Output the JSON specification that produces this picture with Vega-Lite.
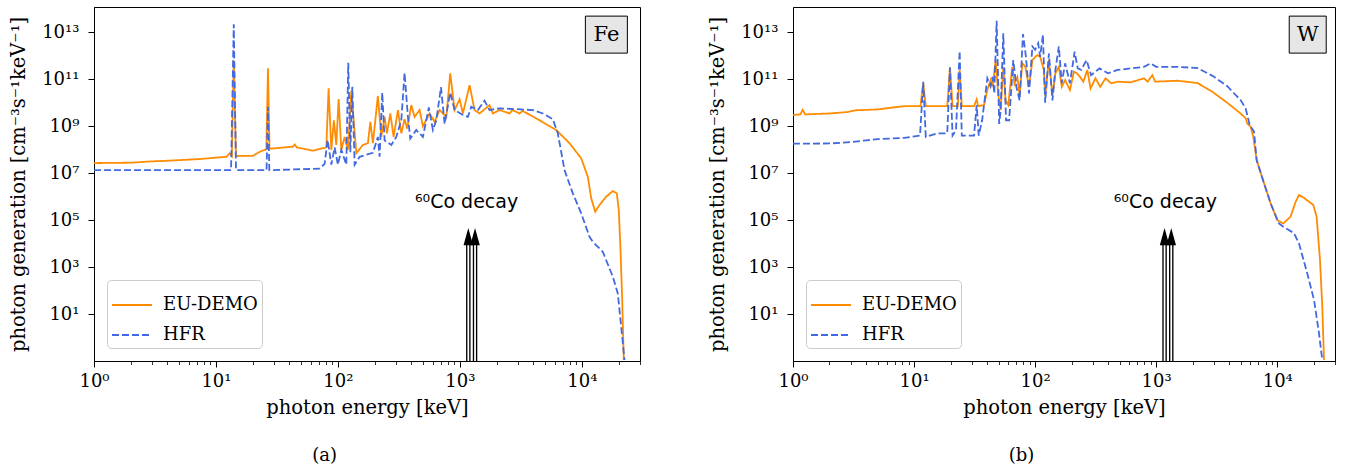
{
 "$schema": "https://vega.github.io/schema/vega-lite/v6.json",
 "padding": {"left": 8, "top": 6, "right": 4, "bottom": 0},
 "spacing": 66,
 "config": {
  "font": "DejaVu Serif",
  "view": {"stroke": "black", "strokeWidth": 1},
  "axis": {"labelFont": "DejaVu Serif", "labelFontSize": 18, "titleFont": "DejaVu Serif", "titleFontSize": 19.5, "titleFontWeight": "normal", "labelColor": "black", "titleColor": "black", "tickColor": "black", "domainColor": "black", "grid": false, "tickSize": 6, "tickWidth": 1, "labelFlush": false},
  "axisY": {"labelPadding": 9, "titlePadding": 13},
  "axisX": {"labelPadding": 5, "titlePadding": 8},
  "legend": {"labelFont": "DejaVu Serif", "labelFontSize": 18, "labelColor": "black", "symbolType": "stroke", "symbolSize": 1600, "symbolStrokeWidth": 2, "fillColor": "white", "strokeColor": "#cccccc", "cornerRadius": 4, "padding": 4, "rowPadding": 0, "labelOffset": 10, "offset": 13, "orient": "bottom-left", "title": null},
  "title": {"font": "DejaVu Serif", "fontSize": 18, "fontWeight": "normal", "color": "black"}
 },
 "datasets": {
  "fe": [
   {"series":"EU-DEMO","energy":1,"value":2.7e7},{"series":"EU-DEMO","energy":2,"value":2.8e7},{"series":"EU-DEMO","energy":3,"value":3.2e7},{"series":"EU-DEMO","energy":3.6,"value":3.3e7},{"series":"EU-DEMO","energy":5,"value":3.6e7},{"series":"EU-DEMO","energy":7.35,"value":4.0e7},{"series":"EU-DEMO","energy":12.2,"value":5.0e7},{"series":"EU-DEMO","energy":13.0,"value":7.1e7},{"series":"EU-DEMO","energy":13.5,"value":5.4e7},{"series":"EU-DEMO","energy":14.0,"value":6.3e11},{"series":"EU-DEMO","energy":14.6,"value":5.4e7},{"series":"EU-DEMO","energy":20,"value":5.5e7},{"series":"EU-DEMO","energy":22.8,"value":8.1e7},{"series":"EU-DEMO","energy":25.9,"value":1.05e8},{"series":"EU-DEMO","energy":26.7,"value":2.95e11},{"series":"EU-DEMO","energy":27.5,"value":1.1e8},{"series":"EU-DEMO","energy":42.8,"value":1.35e8},{"series":"EU-DEMO","energy":44.3,"value":1.66e8},{"series":"EU-DEMO","energy":46,"value":1.26e8},{"series":"EU-DEMO","energy":62.4,"value":9.1e7},{"series":"EU-DEMO","energy":77.8,"value":1.2e8},{"series":"EU-DEMO","energy":80.3,"value":1.26e8},{"series":"EU-DEMO","energy":83.9,"value":4.1e10},{"series":"EU-DEMO","energy":88.3,"value":9.8e7},{"series":"EU-DEMO","energy":92.7,"value":1.8e9},{"series":"EU-DEMO","energy":97,"value":1.6e8},{"series":"EU-DEMO","energy":101.4,"value":1.45e10},{"series":"EU-DEMO","energy":106.6,"value":9.8e7},{"series":"EU-DEMO","energy":113.5,"value":3.5e8},{"series":"EU-DEMO","energy":120.8,"value":9.8e7},{"series":"EU-DEMO","energy":128.8,"value":3.2e10},{"series":"EU-DEMO","energy":141.6,"value":7.1e7},{"series":"EU-DEMO","energy":160.4,"value":1.6e8},{"series":"EU-DEMO","energy":176.3,"value":1.9e8},{"series":"EU-DEMO","energy":184.4,"value":1.55e9},{"series":"EU-DEMO","energy":193.6,"value":1.9e8},{"series":"EU-DEMO","energy":212.7,"value":1.95e10},{"series":"EU-DEMO","energy":226.9,"value":3.5e8},{"series":"EU-DEMO","energy":241.5,"value":2.5e9},{"series":"EU-DEMO","energy":252.4,"value":5e8},{"series":"EU-DEMO","energy":269,"value":3.5e9},{"series":"EU-DEMO","energy":286.3,"value":3.5e8},{"series":"EU-DEMO","energy":310.6,"value":4.9e9},{"series":"EU-DEMO","energy":331,"value":5e8},{"series":"EU-DEMO","energy":352,"value":2e9},{"series":"EU-DEMO","energy":370,"value":7.9e8},{"series":"EU-DEMO","energy":400,"value":7.9e9},{"series":"EU-DEMO","energy":425.5,"value":2.5e9},{"series":"EU-DEMO","energy":467.7,"value":4.9e9},{"series":"EU-DEMO","energy":497.6,"value":1e9},{"series":"EU-DEMO","energy":564.6,"value":3.5e9},{"series":"EU-DEMO","energy":620.6,"value":1.55e9},{"series":"EU-DEMO","energy":682,"value":4.9e9},{"series":"EU-DEMO","energy":774,"value":2.5e9},{"series":"EU-DEMO","energy":834,"value":1.8e11},{"series":"EU-DEMO","energy":905,"value":4.9e9},{"series":"EU-DEMO","energy":995,"value":1.4e10},{"series":"EU-DEMO","energy":1059,"value":3.5e9},{"series":"EU-DEMO","energy":1202,"value":5.6e10},{"series":"EU-DEMO","energy":1320,"value":4.9e9},{"series":"EU-DEMO","energy":1450,"value":3.5e9},{"series":"EU-DEMO","energy":1750,"value":7.9e9},{"series":"EU-DEMO","energy":1864,"value":3.5e9},{"series":"EU-DEMO","energy":2118,"value":4.9e9},{"series":"EU-DEMO","energy":2556,"value":3.5e9},{"series":"EU-DEMO","energy":2704,"value":4.9e9},{"series":"EU-DEMO","energy":3085,"value":3.5e9},{"series":"EU-DEMO","energy":3265,"value":4.5e9},{"series":"EU-DEMO","energy":3964,"value":2.6e9},{"series":"EU-DEMO","energy":4500,"value":1.8e9},{"series":"EU-DEMO","energy":6170,"value":6.9e8},{"series":"EU-DEMO","energy":7925,"value":1.9e8},{"series":"EU-DEMO","energy":9885,"value":4.3e7},{"series":"EU-DEMO","energy":11200,"value":7.1e6},{"series":"EU-DEMO","energy":11940,"value":8.5e5},{"series":"EU-DEMO","energy":12880,"value":2.3e5},{"series":"EU-DEMO","energy":13960,"value":4.4e5},{"series":"EU-DEMO","energy":15850,"value":1e6},{"series":"EU-DEMO","energy":17960,"value":1.74e6},{"series":"EU-DEMO","energy":19360,"value":1.38e6},{"series":"EU-DEMO","energy":20100,"value":2.7e5},{"series":"EU-DEMO","energy":20760,"value":5.4e3},{"series":"EU-DEMO","energy":21440,"value":40},{"series":"EU-DEMO","energy":22090,"value":0.11},
   {"series":"HFR","energy":1,"value":1.35e7},{"series":"HFR","energy":13.3,"value":1.35e7},{"series":"HFR","energy":14.0,"value":2.2e13},{"series":"HFR","energy":14.6,"value":1.35e7},{"series":"HFR","energy":26.0,"value":1.35e7},{"series":"HFR","energy":26.7,"value":6.8e9},{"series":"HFR","energy":27.4,"value":1.35e7},{"series":"HFR","energy":70.6,"value":1.55e7},{"series":"HFR","energy":77.8,"value":2.5e7},{"series":"HFR","energy":82.4,"value":2.6e8},{"series":"HFR","energy":88.3,"value":2.3e7},{"series":"HFR","energy":94,"value":1.26e8},{"series":"HFR","energy":100,"value":2.3e7},{"series":"HFR","energy":106.6,"value":1e8},{"series":"HFR","energy":117.2,"value":2.3e7},{"series":"HFR","energy":121.6,"value":5e11},{"series":"HFR","energy":126.4,"value":7.9e7},{"series":"HFR","energy":131.3,"value":4.8e10},{"series":"HFR","energy":137.1,"value":2.3e7},{"series":"HFR","energy":150.6,"value":5e7},{"series":"HFR","energy":193.6,"value":7.4e7},{"series":"HFR","energy":212.7,"value":3.5e8},{"series":"HFR","energy":219.6,"value":5e7},{"series":"HFR","energy":231,"value":2.7e10},{"series":"HFR","energy":241.5,"value":2.5e8},{"series":"HFR","energy":274,"value":1.6e8},{"series":"HFR","energy":301,"value":3.5e8},{"series":"HFR","energy":331,"value":1.8e9},{"series":"HFR","energy":352,"value":1.9e11},{"series":"HFR","energy":375,"value":2.5e9},{"series":"HFR","energy":392,"value":3e8},{"series":"HFR","energy":439,"value":6.9e8},{"series":"HFR","energy":497.6,"value":3.5e8},{"series":"HFR","energy":557,"value":6.3e9},{"series":"HFR","energy":601,"value":6.9e8},{"series":"HFR","energy":641,"value":1.8e9},{"series":"HFR","energy":700,"value":4.6e10},{"series":"HFR","energy":750,"value":1.26e9},{"series":"HFR","energy":834,"value":2.7e10},{"series":"HFR","energy":905,"value":4.9e9},{"series":"HFR","energy":1059,"value":3e9},{"series":"HFR","energy":1164,"value":2.5e9},{"series":"HFR","energy":1240,"value":6.8e9},{"series":"HFR","energy":1406,"value":4.9e9},{"series":"HFR","energy":1593,"value":1.23e10},{"series":"HFR","energy":1750,"value":4.9e9},{"series":"HFR","energy":2118,"value":5.8e9},{"series":"HFR","energy":3964,"value":4.9e9},{"series":"HFR","energy":4790,"value":3.5e9},{"series":"HFR","energy":5785,"value":2e9},{"series":"HFR","energy":6355,"value":5e8},{"series":"HFR","energy":7215,"value":1.35e7},{"series":"HFR","energy":8440,"value":1.38e6},{"series":"HFR","energy":9885,"value":1.95e5},{"series":"HFR","energy":11560,"value":1.95e4},{"series":"HFR","energy":12300,"value":1.2e4},{"series":"HFR","energy":14860,"value":4.5e3},{"series":"HFR","energy":17960,"value":390},{"series":"HFR","energy":19730,"value":76},{"series":"HFR","energy":21030,"value":2.9},{"series":"HFR","energy":22390,"value":0.11}
  ],
  "w": [
   {"series":"EU-DEMO","energy":1,"value":3.0e9},{"series":"EU-DEMO","energy":1.15,"value":3.2e9},{"series":"EU-DEMO","energy":1.2,"value":5e9},{"series":"EU-DEMO","energy":1.26,"value":3.2e9},{"series":"EU-DEMO","energy":2.0,"value":3.5e9},{"series":"EU-DEMO","energy":2.8,"value":4e9},{"series":"EU-DEMO","energy":3.3,"value":4.8e9},{"series":"EU-DEMO","energy":5.0,"value":5.2e9},{"series":"EU-DEMO","energy":8.3,"value":7.2e9},{"series":"EU-DEMO","energy":11.3,"value":7.2e9},{"series":"EU-DEMO","energy":11.9,"value":6.8e10},{"series":"EU-DEMO","energy":12.5,"value":7.2e9},{"series":"EU-DEMO","energy":18.8,"value":7.2e9},{"series":"EU-DEMO","energy":19.8,"value":3.2e11},{"series":"EU-DEMO","energy":20.8,"value":7.2e9},{"series":"EU-DEMO","energy":23.0,"value":7.2e9},{"series":"EU-DEMO","energy":23.8,"value":2.5e11},{"series":"EU-DEMO","energy":24.8,"value":7.2e9},{"series":"EU-DEMO","energy":31.3,"value":7.2e9},{"series":"EU-DEMO","energy":32.9,"value":1.4e10},{"series":"EU-DEMO","energy":33.8,"value":7.2e9},{"series":"EU-DEMO","energy":37.8,"value":7.9e9},{"series":"EU-DEMO","energy":40.3,"value":3.5e10},{"series":"EU-DEMO","energy":42.9,"value":9.3e10},{"series":"EU-DEMO","energy":44.5,"value":5e10},{"series":"EU-DEMO","energy":47.2,"value":6.6e11},{"series":"EU-DEMO","energy":49.5,"value":2.5e10},{"series":"EU-DEMO","energy":51.9,"value":4.9e9},{"series":"EU-DEMO","energy":54.6,"value":3.4e11},{"series":"EU-DEMO","energy":57,"value":1.26e10},{"series":"EU-DEMO","energy":60,"value":7.9e9},{"series":"EU-DEMO","energy":64.7,"value":3.4e11},{"series":"EU-DEMO","energy":67.5,"value":6.3e10},{"series":"EU-DEMO","energy":71.3,"value":1.26e11},{"series":"EU-DEMO","energy":74.5,"value":2e10},{"series":"EU-DEMO","energy":78.4,"value":4.8e11},{"series":"EU-DEMO","energy":83,"value":3.4e11},{"series":"EU-DEMO","energy":89,"value":4.8e10},{"series":"EU-DEMO","energy":95,"value":6.6e11},{"series":"EU-DEMO","energy":104,"value":1.07e12},{"series":"EU-DEMO","energy":110,"value":9.1e11},{"series":"EU-DEMO","energy":118,"value":2.5e11},{"series":"EU-DEMO","energy":121,"value":2e10},{"series":"EU-DEMO","energy":130,"value":6.6e11},{"series":"EU-DEMO","energy":139,"value":2e10},{"series":"EU-DEMO","energy":147,"value":1.8e11},{"series":"EU-DEMO","energy":157,"value":3.4e11},{"series":"EU-DEMO","energy":166,"value":4.8e10},{"series":"EU-DEMO","energy":177,"value":9.3e10},{"series":"EU-DEMO","energy":194,"value":3.5e10},{"series":"EU-DEMO","energy":209,"value":2.1e11},{"series":"EU-DEMO","energy":221,"value":1.8e11},{"series":"EU-DEMO","energy":235,"value":1.26e11},{"series":"EU-DEMO","energy":250,"value":7.9e10},{"series":"EU-DEMO","energy":270,"value":2.5e11},{"series":"EU-DEMO","energy":287,"value":4e10},{"series":"EU-DEMO","energy":315,"value":1.1e11},{"series":"EU-DEMO","energy":345,"value":4.8e10},{"series":"EU-DEMO","energy":382,"value":1.1e11},{"series":"EU-DEMO","energy":425,"value":6.8e10},{"series":"EU-DEMO","energy":480,"value":7.9e10},{"series":"EU-DEMO","energy":615,"value":7.4e10},{"series":"EU-DEMO","energy":793,"value":1.1e11},{"series":"EU-DEMO","energy":850,"value":7.9e10},{"series":"EU-DEMO","energy":929,"value":1.5e11},{"series":"EU-DEMO","energy":980,"value":7.9e10},{"series":"EU-DEMO","energy":1494,"value":8.7e10},{"series":"EU-DEMO","energy":2200,"value":6.9e10},{"series":"EU-DEMO","energy":2920,"value":2.9e10},{"series":"EU-DEMO","energy":3866,"value":1e10},{"series":"EU-DEMO","energy":4980,"value":3.5e9},{"series":"EU-DEMO","energy":5480,"value":2.2e9},{"series":"EU-DEMO","energy":5660,"value":1.3e9},{"series":"EU-DEMO","energy":6030,"value":9.5e8},{"series":"EU-DEMO","energy":6345,"value":3.5e8},{"series":"EU-DEMO","energy":6760,"value":3.6e7},{"series":"EU-DEMO","energy":7780,"value":3.7e6},{"series":"EU-DEMO","energy":8820,"value":5.2e5},{"series":"EU-DEMO","energy":10000,"value":1e5},{"series":"EU-DEMO","energy":11220,"value":7.2e4},{"series":"EU-DEMO","energy":12880,"value":1.4e5},{"series":"EU-DEMO","energy":14180,"value":6e5},{"series":"EU-DEMO","energy":15130,"value":1.17e6},{"series":"EU-DEMO","energy":16640,"value":8.9e5},{"series":"EU-DEMO","energy":19860,"value":4.4e5},{"series":"EU-DEMO","energy":21150,"value":1.4e5},{"series":"EU-DEMO","energy":22550,"value":2e3},{"series":"EU-DEMO","energy":23560,"value":20},{"series":"EU-DEMO","energy":24330,"value":0.11},
   {"series":"HFR","energy":1,"value":1.8e8},{"series":"HFR","energy":2,"value":1.85e8},{"series":"HFR","energy":3,"value":2.1e8},{"series":"HFR","energy":4,"value":2.5e8},{"series":"HFR","energy":5,"value":2.8e8},{"series":"HFR","energy":8.3,"value":3.2e8},{"series":"HFR","energy":11.2,"value":4e8},{"series":"HFR","energy":11.9,"value":7.9e10},{"series":"HFR","energy":12.5,"value":3.5e8},{"series":"HFR","energy":15.6,"value":5e8},{"series":"HFR","energy":18.8,"value":5e8},{"series":"HFR","energy":19.8,"value":3.2e11},{"series":"HFR","energy":20.8,"value":4e8},{"series":"HFR","energy":22.2,"value":6.9e8},{"series":"HFR","energy":23.8,"value":1.6e12},{"series":"HFR","energy":24.8,"value":4e8},{"series":"HFR","energy":31.3,"value":4e8},{"series":"HFR","energy":32.9,"value":7.9e9},{"series":"HFR","energy":34.2,"value":4e8},{"series":"HFR","energy":36.5,"value":1.8e9},{"series":"HFR","energy":40.3,"value":1.1e11},{"series":"HFR","energy":42.9,"value":5e10},{"series":"HFR","energy":44.5,"value":1.26e11},{"series":"HFR","energy":46,"value":2.5e10},{"series":"HFR","energy":48.1,"value":3.1e13},{"series":"HFR","energy":50.5,"value":1.26e9},{"series":"HFR","energy":51.9,"value":4.9e9},{"series":"HFR","energy":54.6,"value":9.1e12},{"series":"HFR","energy":57.5,"value":1.8e9},{"series":"HFR","energy":61,"value":1.8e9},{"series":"HFR","energy":66,"value":6.6e11},{"series":"HFR","energy":70,"value":4.8e10},{"series":"HFR","energy":74.5,"value":1.26e10},{"series":"HFR","energy":79.4,"value":8.5e12},{"series":"HFR","energy":84,"value":9.1e11},{"series":"HFR","energy":89,"value":2.5e10},{"series":"HFR","energy":95,"value":2.5e12},{"series":"HFR","energy":100,"value":1.8e12},{"series":"HFR","energy":106,"value":3.4e12},{"series":"HFR","energy":110,"value":9.1e11},{"series":"HFR","energy":116,"value":7.8e12},{"series":"HFR","energy":121,"value":1e10},{"series":"HFR","energy":130,"value":1.26e12},{"series":"HFR","energy":139,"value":1.26e10},{"series":"HFR","energy":147,"value":2.5e11},{"series":"HFR","energy":157,"value":2.5e12},{"series":"HFR","energy":166,"value":6.8e10},{"series":"HFR","energy":177,"value":4.8e11},{"series":"HFR","energy":194,"value":6.8e10},{"series":"HFR","energy":212,"value":1.5e12},{"series":"HFR","energy":225,"value":2.9e11},{"series":"HFR","energy":240,"value":2.5e11},{"series":"HFR","energy":266,"value":6.6e11},{"series":"HFR","energy":290,"value":1.5e11},{"series":"HFR","energy":340,"value":2.9e11},{"series":"HFR","energy":400,"value":1.8e11},{"series":"HFR","energy":478,"value":2.5e11},{"series":"HFR","energy":615,"value":2.9e11},{"series":"HFR","energy":793,"value":3.4e11},{"series":"HFR","energy":900,"value":4.8e11},{"series":"HFR","energy":1000,"value":3.4e11},{"series":"HFR","energy":1494,"value":3.4e11},{"series":"HFR","energy":2200,"value":3e11},{"series":"HFR","energy":2920,"value":1.4e11},{"series":"HFR","energy":3866,"value":5.1e10},{"series":"HFR","energy":4980,"value":1.3e10},{"series":"HFR","energy":5480,"value":5.8e9},{"series":"HFR","energy":5930,"value":1.1e9},{"series":"HFR","energy":6430,"value":5.9e8},{"series":"HFR","energy":6760,"value":3.6e7},{"series":"HFR","energy":7780,"value":3.7e6},{"series":"HFR","energy":8820,"value":5.2e5},{"series":"HFR","energy":10330,"value":7.2e4},{"series":"HFR","energy":11220,"value":5.2e4},{"series":"HFR","energy":13750,"value":2.8e4},{"series":"HFR","energy":15130,"value":1e4},{"series":"HFR","energy":17700,"value":540},{"series":"HFR","energy":20130,"value":40},{"series":"HFR","energy":22130,"value":1.5},{"series":"HFR","energy":23560,"value":0.11}
  ],
  "arrows": [
   {"energy": 1173, "base": 0.1, "top": 1e4, "head": 2e4},
   {"energy": 1332, "base": 0.1, "top": 1e4, "head": 2e4}
  ],
  "notes_fe": [{"label": "⁶⁰Co decay", "energy": 1135, "value": 5.9e5}],
  "notes_w": [{"label": "⁶⁰Co decay", "energy": 1190, "value": 5.9e5}],
  "tag_fe": [{"label": "Fe", "energy": 15900, "value": 8e12}],
  "tag_w": [{"label": "W", "energy": 17860, "value": 8e12}]
 },
 "hconcat": [
  {
   "width": 546, "height": 354,
   "title": {"text": "(a)", "orient": "bottom", "anchor": "middle", "frame": "bounds", "offset": 30},
   "resolve": {"axis": {"x": "independent"}},
   "layer": [
    {"data": {"name": "fe"}, "mark": {"type": "line", "strokeWidth": 1.8, "clip": true},
     "encoding": {
      "x": {"field": "energy", "type": "quantitative", "scale": {"type": "log", "domain": [1, 30000], "nice": false}, "axis": {"orient": "bottom", "values": [1, 10, 100, 1000, 10000], "labelExpr": "'10' + ['⁰','¹','²','³','⁴'][round(log(datum.value)/LN10)]", "title": "photon energy [keV]"}},
      "y": {"field": "value", "type": "quantitative", "title": "photon generation [cm⁻³s⁻¹keV⁻¹]", "scale": {"type": "log", "domain": [0.1, 1.2e14], "nice": false}, "axis": {"values": [10, 1000, 1e5, 1e7, 1e9, 1e11, 1e13], "labelExpr": "'10' + ['⁻¹','⁰','¹','²','³','⁴','⁵','⁶','⁷','⁸','⁹','¹⁰','¹¹','¹²','¹³','¹⁴'][round(log(datum.value)/LN10)+1]"}},
      "color": {"field": "series", "type": "nominal", "scale": {"domain": ["EU-DEMO", "HFR"], "range": ["#ff8c00", "#4169e1"]}},
      "strokeDash": {"field": "series", "type": "nominal", "scale": {"domain": ["EU-DEMO", "HFR"], "range": [[1, 0], [7, 3]]}}
     }},
    {"data": {"name": "arrows"}, "mark": {"type": "rule", "color": "black", "strokeWidth": 4.5},
     "encoding": {"x": {"field": "energy", "type": "quantitative", "axis": null}, "y": {"field": "base", "type": "quantitative", "title": "photon generation [cm⁻³s⁻¹keV⁻¹]"}, "y2": {"field": "top"}}},
    {"data": {"name": "arrows"}, "mark": {"type": "rule", "color": "white", "strokeWidth": 1.8},
     "encoding": {"x": {"field": "energy", "type": "quantitative", "axis": {"orient": "bottom", "values": [2,3,4,5,6,7,8,9,20,30,40,50,60,70,80,90,200,300,400,500,600,700,800,900,2000,3000,4000,5000,6000,7000,8000,9000,20000,30000], "labels": false, "domain": false, "tickSize": 3.5, "tickWidth": 0.8, "title": null}}, "y": {"field": "base", "type": "quantitative", "title": "photon generation [cm⁻³s⁻¹keV⁻¹]"}, "y2": {"field": "top"}}},
    {"data": {"name": "arrows"}, "mark": {"type": "point", "shape": "M0,-1L0.55,1L-0.55,1Z", "filled": true, "color": "black", "size": 300, "opacity": 1},
     "encoding": {"x": {"field": "energy", "type": "quantitative", "axis": null}, "y": {"field": "head", "type": "quantitative", "title": "photon generation [cm⁻³s⁻¹keV⁻¹]"}}},
    {"data": {"name": "notes_fe"}, "mark": {"type": "text", "font": "DejaVu Sans", "fontSize": 19, "color": "black"},
     "encoding": {"x": {"field": "energy", "type": "quantitative", "axis": null}, "y": {"field": "value", "type": "quantitative", "title": "photon generation [cm⁻³s⁻¹keV⁻¹]"}, "text": {"field": "label"}}},
    {"data": {"name": "tag_fe"}, "mark": {"type": "point", "shape": "M-1.135,-1H1.135V1H-1.135Z", "filled": true, "fill": "#e6e6e6", "stroke": "black", "strokeWidth": 1, "size": 1369, "opacity": 1},
     "encoding": {"x": {"field": "energy", "type": "quantitative", "axis": null}, "y": {"field": "value", "type": "quantitative", "title": "photon generation [cm⁻³s⁻¹keV⁻¹]"}}},
    {"data": {"name": "tag_fe"}, "mark": {"type": "text", "font": "DejaVu Serif", "fontSize": 21, "color": "black"},
     "encoding": {"x": {"field": "energy", "type": "quantitative", "axis": null}, "y": {"field": "value", "type": "quantitative", "title": "photon generation [cm⁻³s⁻¹keV⁻¹]"}, "text": {"field": "label"}}}
   ]
  },
  {
   "width": 542, "height": 354,
   "title": {"text": "(b)", "orient": "bottom", "anchor": "middle", "frame": "bounds", "offset": 30},
   "resolve": {"axis": {"x": "independent"}},
   "layer": [
    {"data": {"name": "w"}, "mark": {"type": "line", "strokeWidth": 1.8, "clip": true},
     "encoding": {
      "x": {"field": "energy", "type": "quantitative", "scale": {"type": "log", "domain": [1, 30000], "nice": false}, "axis": {"orient": "bottom", "values": [1, 10, 100, 1000, 10000], "labelExpr": "'10' + ['⁰','¹','²','³','⁴'][round(log(datum.value)/LN10)]", "title": "photon energy [keV]"}},
      "y": {"field": "value", "type": "quantitative", "title": "photon generation [cm⁻³s⁻¹keV⁻¹]", "scale": {"type": "log", "domain": [0.1, 1.2e14], "nice": false}, "axis": {"values": [10, 1000, 1e5, 1e7, 1e9, 1e11, 1e13], "labelExpr": "'10' + ['⁻¹','⁰','¹','²','³','⁴','⁵','⁶','⁷','⁸','⁹','¹⁰','¹¹','¹²','¹³','¹⁴'][round(log(datum.value)/LN10)+1]"}},
      "color": {"field": "series", "type": "nominal", "scale": {"domain": ["EU-DEMO", "HFR"], "range": ["#ff8c00", "#4169e1"]}},
      "strokeDash": {"field": "series", "type": "nominal", "scale": {"domain": ["EU-DEMO", "HFR"], "range": [[1, 0], [7, 3]]}}
     }},
    {"data": {"name": "arrows"}, "mark": {"type": "rule", "color": "black", "strokeWidth": 4.5},
     "encoding": {"x": {"field": "energy", "type": "quantitative", "axis": null}, "y": {"field": "base", "type": "quantitative", "title": "photon generation [cm⁻³s⁻¹keV⁻¹]"}, "y2": {"field": "top"}}},
    {"data": {"name": "arrows"}, "mark": {"type": "rule", "color": "white", "strokeWidth": 1.8},
     "encoding": {"x": {"field": "energy", "type": "quantitative", "axis": {"orient": "bottom", "values": [2,3,4,5,6,7,8,9,20,30,40,50,60,70,80,90,200,300,400,500,600,700,800,900,2000,3000,4000,5000,6000,7000,8000,9000,20000,30000], "labels": false, "domain": false, "tickSize": 3.5, "tickWidth": 0.8, "title": null}}, "y": {"field": "base", "type": "quantitative", "title": "photon generation [cm⁻³s⁻¹keV⁻¹]"}, "y2": {"field": "top"}}},
    {"data": {"name": "arrows"}, "mark": {"type": "point", "shape": "M0,-1L0.55,1L-0.55,1Z", "filled": true, "color": "black", "size": 300, "opacity": 1},
     "encoding": {"x": {"field": "energy", "type": "quantitative", "axis": null}, "y": {"field": "head", "type": "quantitative", "title": "photon generation [cm⁻³s⁻¹keV⁻¹]"}}},
    {"data": {"name": "notes_w"}, "mark": {"type": "text", "font": "DejaVu Sans", "fontSize": 19, "color": "black"},
     "encoding": {"x": {"field": "energy", "type": "quantitative", "axis": null}, "y": {"field": "value", "type": "quantitative", "title": "photon generation [cm⁻³s⁻¹keV⁻¹]"}, "text": {"field": "label"}}},
    {"data": {"name": "tag_w"}, "mark": {"type": "point", "shape": "square", "filled": true, "fill": "#e6e6e6", "stroke": "black", "strokeWidth": 1, "size": 1369, "opacity": 1},
     "encoding": {"x": {"field": "energy", "type": "quantitative", "axis": null}, "y": {"field": "value", "type": "quantitative", "title": "photon generation [cm⁻³s⁻¹keV⁻¹]"}}},
    {"data": {"name": "tag_w"}, "mark": {"type": "text", "font": "DejaVu Serif", "fontSize": 21, "color": "black"},
     "encoding": {"x": {"field": "energy", "type": "quantitative", "axis": null}, "y": {"field": "value", "type": "quantitative", "title": "photon generation [cm⁻³s⁻¹keV⁻¹]"}, "text": {"field": "label"}}}
   ]
  }
 ],
 "resolve": {"scale": {"x": "independent", "y": "independent", "color": "independent", "strokeDash": "independent"}, "legend": {"color": "independent", "strokeDash": "independent"}}
}
